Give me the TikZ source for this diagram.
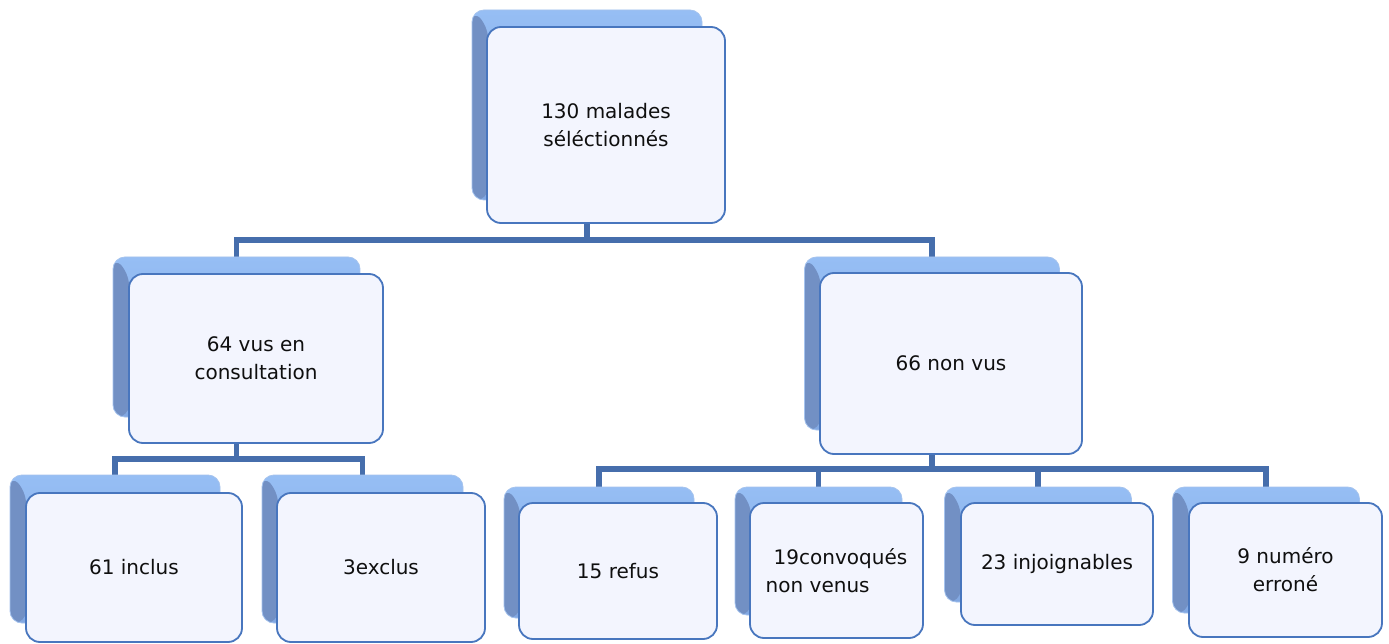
\documentclass[tikz,border=0pt]{standalone}
\usepackage{fontspec}
\setmainfont{DejaVu Sans}
\usetikzlibrary{backgrounds}
\definecolor{bTop}{RGB}{150,190,244}
\definecolor{bBot}{RGB}{130,168,226}
\definecolor{bDark}{RGB}{114,144,196}
\definecolor{bEdge}{RGB}{165,195,238}
\definecolor{fFill}{RGB}{243,245,254}
\definecolor{fEdge}{RGB}{72,118,190}
\definecolor{connCol}{RGB}{70,110,172}
\definecolor{txtCol}{RGB}{15,15,15}
\tikzset{
  backbox/.style={rectangle, rounded corners=12pt, inner sep=0pt, outer sep=0pt,
    top color=bTop, bottom color=bBot, draw=bEdge, line width=0.8pt,
    path picture={\fill[bDark] (path picture bounding box.north west)
      -- ([xshift=16pt,yshift=-16pt]path picture bounding box.north west)
      -- ([xshift=16pt]path picture bounding box.south west)
      -- (path picture bounding box.south west) -- cycle;}},
  frontbox/.style={rectangle, rounded corners=14pt, inner sep=0pt, outer sep=0pt,
    fill=fFill, draw=fEdge, line width=1.8pt, align=center, text=txtCol,
    font=\fontsize{20}{28}\selectfont},
  conn/.style={draw=connCol, line width=5.5pt}
}
\begin{document}
\begin{tikzpicture}[x=1pt,y=-1pt]
\useasboundingbox (0,0) rectangle (1389,644);
% level 0
\node[backbox, minimum width=230pt, minimum height=190pt] (b0) at (587,105) {};
\node[frontbox, minimum width=238pt, minimum height=196pt] (f0) at (606,125) {130 malades\\séléctionnés};
% level 1
\node[backbox, minimum width=247pt, minimum height=160pt] (b1) at (236.5,337) {};
\node[frontbox, minimum width=254pt, minimum height=169pt] (f1) at (256,358.5) {64 vus en\\consultation};
\node[backbox, minimum width=255pt, minimum height=173pt] (b2) at (932,343.5) {};
\node[frontbox, minimum width=262pt, minimum height=181pt] (f2) at (951,363.5) {66 non vus};
% level 2 left
\node[backbox, minimum width=210pt, minimum height=148pt] (b3) at (115,549) {};
\node[frontbox, minimum width=216pt, minimum height=149pt] (f3) at (134,567.5) {61 inclus};
\node[backbox, minimum width=201pt, minimum height=148pt] (b4) at (362.5,549) {};
\node[frontbox, minimum width=208pt, minimum height=149pt] (f4) at (381,567.5) {3exclus};
% level 2 right
\node[backbox, minimum width=190pt, minimum height=131pt] (b5) at (599,552.5) {};
\node[frontbox, minimum width=198pt, minimum height=136pt] (f5) at (618,571) {15 refus};
\node[backbox, minimum width=167pt, minimum height=128pt] (b6) at (818.5,551) {};
\node[frontbox, minimum width=173pt, minimum height=135pt, align=left] (f6) at (836.5,570.5) {\hspace*{8pt}19convoqués\\non venus};
\node[backbox, minimum width=187pt, minimum height=115pt] (b7) at (1038,544.5) {};
\node[frontbox, minimum width=192pt, minimum height=122pt] (f7) at (1057,564) {23 injoignables};
\node[backbox, minimum width=187pt, minimum height=126pt] (b8) at (1266,550) {};
\node[frontbox, minimum width=193pt, minimum height=134pt] (f8) at (1285.5,570) {9 numéro\\erroné};
% bus coordinates
\coordinate (bus0) at (0,240);
\coordinate (bus1) at (0,459);
\coordinate (bus2) at (0,469);
\begin{scope}[on background layer]
\fill[white] (0,0) rectangle (1389,644);
\draw[conn] (b0.center) -- (b0 |- bus0) -| (b1.center);
\draw[conn] (b0 |- bus0) -| (b2.center);
\draw[conn] (b1.center) -- (b1 |- bus1) -| (b3.center);
\draw[conn] (b1 |- bus1) -| (b4.center);
\draw[conn] (b2.center) -- (b2 |- bus2) -| (b5.center);
\draw[conn] (b2 |- bus2) -| (b8.center);
\draw[conn] (b6 |- bus2) -- (b6.center);
\draw[conn] (b7 |- bus2) -- (b7.center);
\end{scope}
\end{tikzpicture}
\end{document}
